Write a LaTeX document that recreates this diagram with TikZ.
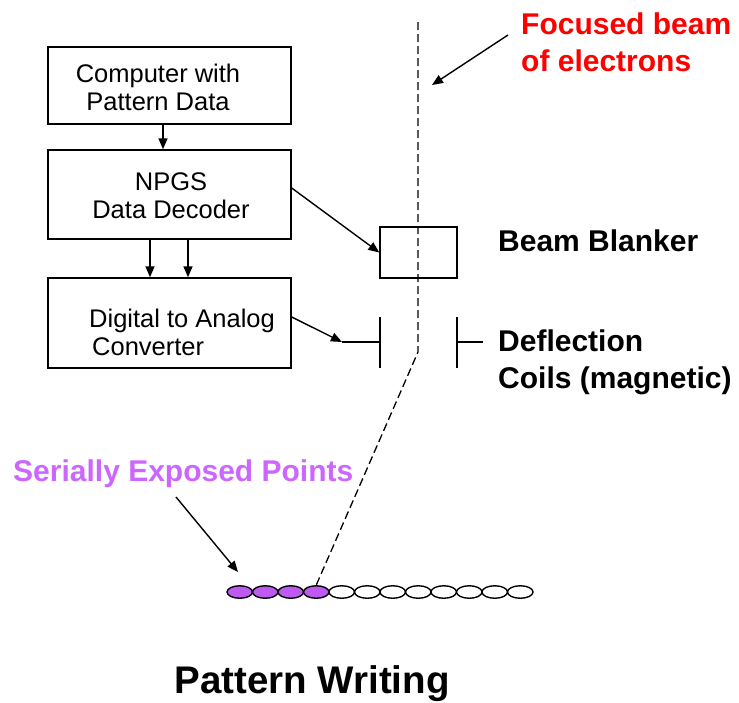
\documentclass[tikz,border=0pt]{standalone}
\usepackage{fontspec}
\setmainfont{Liberation Sans}
\usetikzlibrary{arrows.meta,shapes.geometric}
\definecolor{violetlbl}{RGB}{204,102,255}
\definecolor{violetfill}{RGB}{190,90,240}
\begin{document}
\begin{tikzpicture}[x=1pt,y=-1pt,
  blk/.style={draw,line width=1.4pt,inner sep=0,minimum width=243pt},
  arr/.style={line width=1.4pt,-{Triangle[length=11pt,width=9pt]}},
  beam/.style={line width=1.3pt,dash pattern=on 8pt off 4pt},
  boxtxt/.style={font=\fontsize{25.5}{28}\selectfont,inner sep=0},
  lbl/.style={font=\bfseries\fontsize{30}{37}\selectfont,inner sep=0,align=left,anchor=west},
  dot/.style={ellipse,draw,line width=1.4pt,minimum width=25.5pt,minimum height=12.5pt,inner sep=0}]
\useasboundingbox (0,0) rectangle (739,702);
% blocks
\node[blk,minimum height=77pt] (box1) at (169.5,85.5) {};
\node[blk,minimum height=89pt] (box2) at (169.5,194.5) {};
\node[blk,minimum height=90pt] (box3) at (169.5,323) {};
\node[boxtxt,align=center] (t1) at (158,87) {Computer with\\Pattern Data};
\node[boxtxt,align=center] (t2) at (171,196) {NPGS\\Data Decoder};
\node[boxtxt,align=left,anchor=west] (t3) at (89,332) {Digital to Analog\\\hspace*{3pt}Converter};
\draw[arr] ([xshift=-6.5pt]box1.south) -- ([xshift=-6.5pt]box2.north);
\draw[arr] ([xshift=-19.5pt]box2.south) -- ([xshift=-19.5pt]box3.north);
\draw[arr] ([xshift=18.5pt]box2.south) -- ([xshift=18.5pt]box3.north);
% beam blanker
\node[draw,line width=1.4pt,minimum width=77pt,minimum height=51pt,inner sep=0] (bb) at (418.5,252.5) {};
\draw[arr] ([yshift=6.5pt]box2.east) -- (bb.west);
% deflection coils
\coordinate (coilL) at (380,342);
\coordinate (coilR) at (457,342);
\coordinate (coilLin) at (342,342);
\coordinate (coilRout) at (483,342);
\draw[line width=1.4pt] ([yshift=25pt]coilL) -- ([yshift=-26pt]coilL);
\draw[line width=1.4pt] ([yshift=25pt]coilR) -- ([yshift=-26pt]coilR);
\draw[line width=1.4pt] (coilLin) -- (coilL);
\draw[line width=1.4pt] (coilR) -- (coilRout);
\draw[arr] ([yshift=6pt]box3.east) -- (coilLin);
% exposed points
\foreach \i in {0,...,11}{
  \ifnum\i<4
    \node[dot,fill=violetfill] (e\i) at ({239.75+25.5*\i},592) {};
  \else
    \node[dot,fill=white] (e\i) at ({239.75+25.5*\i},592) {};
  \fi
}
% beam
\coordinate (beamtop) at (418,22);
\coordinate (beambend) at (418,352);
\draw[beam] (beamtop) -- (beambend) -- (e3.north);
% labels
\node[lbl,text=red] (fb) at (521,42) {Focused beam\\of electrons};
\coordinate (fbA) at (508,35);
\coordinate (fbB) at (432,85);
\draw[arr] (fbA) -- (fbB);
\node[lbl] (bbl) at (498,241) {Beam Blanker};
\node[lbl] (dcl) at (498,362) {Deflection\\Coils (magnetic)};
\node[lbl,text=violetlbl] (sep) at (13,474) {Serially Exposed Points};
\coordinate (sepA) at (176,497);
\coordinate (sepB) at (238,572);
\draw[arr] (sepA) -- (sepB);
\node[font=\bfseries\fontsize{38.5}{44}\selectfont,inner sep=0] (pw) at (312,684) {Pattern Writing};
\end{tikzpicture}
\end{document}
